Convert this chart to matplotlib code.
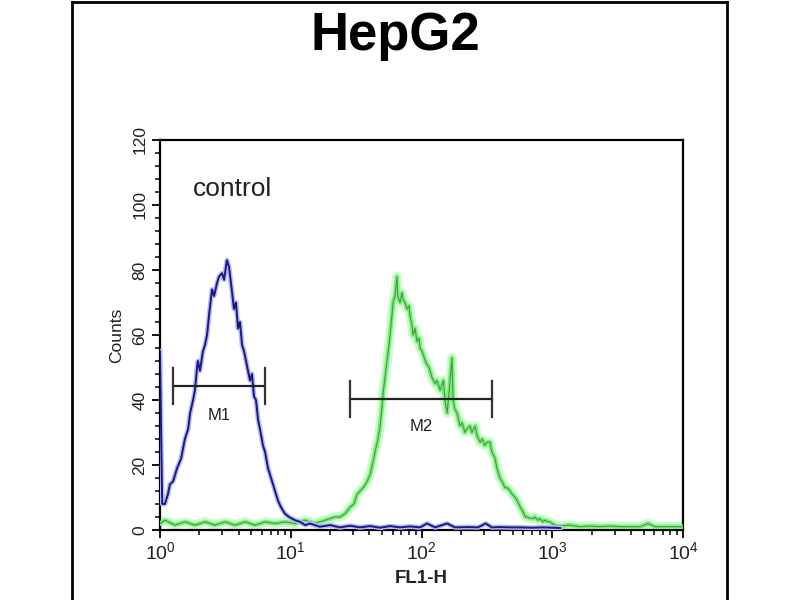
import matplotlib
matplotlib.use("Agg")
import matplotlib.pyplot as plt
from matplotlib.ticker import MultipleLocator, LogLocator, NullFormatter
from matplotlib.lines import Line2D

plt.rcParams['font.family'] = ['Liberation Sans', 'DejaVu Sans']
plt.rcParams['mathtext.fontset'] = 'custom'
plt.rcParams['mathtext.rm'] = 'Liberation Sans'
plt.rcParams['mathtext.it'] = 'Liberation Sans'
plt.rcParams['mathtext.bf'] = 'Liberation Sans:bold'

title = "HepG2"
sample_label = "control"
x_label = "FL1-H"
y_label = "Counts"

# control histogram (blue)
blue_x = [1.0, 1.02, 1.04, 1.09, 1.15, 1.19, 1.26, 1.35, 1.45, 1.55, 1.64, 1.70, 1.79, 1.85,
          1.92, 1.95, 2.02, 2.13, 2.21, 2.29, 2.37, 2.50, 2.59, 2.73, 2.83, 2.98, 3.09, 3.25,
          3.37, 3.49, 3.68, 3.81, 3.95, 4.09, 4.24, 4.39, 4.55, 4.71, 4.88, 5.05, 5.24, 5.42,
          5.62, 5.82, 6.13, 6.36, 6.70, 6.94, 7.32, 7.71, 7.99, 8.42, 9.03, 9.70, 10.8, 11.8,
          12.9, 14.0, 16.7, 20.0, 23.8, 28.4, 33.9, 40.4, 48.2, 57.4, 68.5, 81.7, 97.5, 110,
          127, 157, 180, 230, 270, 310, 345, 400, 480, 560, 700, 850, 1000, 1150]
blue_y = [55, 30, 8, 8, 11, 14, 15, 19, 22, 28, 31, 36, 40, 43,
          50, 52, 49, 55, 57, 60, 66, 74, 72, 76, 78, 79, 77, 83,
          81, 76, 68, 70, 62, 64, 57, 55, 52, 49, 46, 48, 41, 40,
          34, 31, 26, 24, 19, 17, 14, 11, 9, 7, 5, 4, 3, 2.5,
          1.5, 2, 1.0, 1.5, 0.8, 1.3, 0.8, 1.2, 0.7, 1.2, 0.8, 1.1, 0.8, 2.0,
          0.8, 2.0, 0.8, 0.9, 0.8, 2.0, 0.8, 0.9, 0.8, 0.8, 0.7, 0.8, 0.7, 0.6]

# stained sample histogram (green)
green_x = [1.0, 1.09, 1.30, 1.55, 1.85, 2.21, 2.63, 3.14, 3.74, 4.47, 5.33, 6.36, 7.59, 9.03,
           10.8, 12.9, 15.3, 18.3, 21.8, 23.8, 26.0, 28.4, 30.5, 32.1, 33.9, 35.8, 38.4, 40.4,
           42.6, 44.1, 46.5, 48.2, 49.9, 50.8, 52.6, 54.5, 56.4, 57.4, 59.4, 60.5, 62.6, 64.9,
           65.7, 68.5, 70.9, 72.2, 74.8, 77.4, 80.2, 81.7, 84.6, 86.1, 89.2, 92.4, 95.8, 97.5,
           101, 103, 107, 110, 114, 116, 120, 127, 131, 139, 147, 151, 157, 162,
           171, 174, 180, 187, 197, 204, 215, 222, 235, 243, 257, 266, 281, 291,
           305, 316, 334, 345, 365, 377, 398, 412, 435, 451, 477, 493, 521, 539,
           570, 590, 624, 645, 675, 710, 735, 777, 803, 849, 878, 925, 957, 1045,
           1140, 1360, 1620, 1940, 2320, 2770, 3300, 3950, 4700, 5400, 6100, 7250, 8650, 10000]
green_y = [2, 3, 1.5, 2.5, 1.5, 2.5, 1.5, 2.5, 1.5, 2.5, 1.5, 2.5, 2, 2.5,
           2, 3, 2, 3, 4, 4, 5, 7, 8, 11, 12, 13, 15, 17,
           21, 24, 28, 32, 38, 42, 47, 52, 57, 60, 66, 70, 72, 78,
           72, 70, 73, 71, 70, 68, 69, 66, 63, 60, 62, 58, 59, 56,
           55, 54, 52, 51, 50, 49, 47, 45, 46, 43, 46, 40, 36, 42,
           53, 40, 37, 36, 32, 33, 30, 31, 32, 30, 32, 29, 27, 28,
           26, 27, 27, 24, 22, 19, 16, 15, 13, 13, 12, 11, 10, 9,
           7, 6, 4, 4, 3.6, 3.5, 4, 3, 3.5, 2.5, 3, 2.5, 2.5, 1.5,
           1.2, 1.5, 1.0, 1.2, 1.0, 1.2, 1.0, 1.0, 1.0, 2.0, 1.0, 1.0, 1.0, 1.0]

# gates
m1_range = [1.26, 6.35]
m1_level = 44.3
m2_range = [28.4, 346]
m2_level = 40.3
gate_labels = ["M1", "M2"]

fig = plt.figure(figsize=(8, 6), dpi=100)
ax = fig.add_axes([0.2, 0.1167, 0.6538, 0.65])

# green with glow
ax.plot(green_x, green_y, color='#d0fad0', lw=7, solid_joinstyle='round', zorder=2)
ax.plot(green_x, green_y, color='#7af27a', lw=3.2, zorder=3)
ax.plot(green_x, green_y, color='#4f8f4f', lw=0.8, zorder=4)
# blue with halo
ax.plot(blue_x, blue_y, color='#b8b8ff', lw=3.5, zorder=5)
ax.plot(blue_x, blue_y, color='#1a1a78', lw=1.4, zorder=6)

# gate markers
cap = 5.4
for (x0, x1), lvl, lab, dy in [(m1_range, m1_level, gate_labels[0], 9.2),
                               (m2_range, m2_level, gate_labels[1], 8.5)]:
    ax.plot([x0, x1], [lvl, lvl], color='#222222', lw=1.6, zorder=7)
    ax.plot([x0, x0], [lvl - cap, lvl + cap], color='#333333', lw=1.6, zorder=7)
    ax.plot([x1, x1], [lvl - cap, lvl + cap], color='#333333', lw=1.6, zorder=7)
    xm = (x0 * x1) ** 0.5
    ax.text(xm, lvl - dy, lab, ha='center', va='center', fontsize=12, color='#222222', zorder=8)

ax.text(1.79, 105, sample_label, fontsize=19, color='#222222', ha='left', va='center')

ax.set_xscale('log')
ax.set_xlim(1, 10000)
ax.set_ylim(0, 120)
ax.yaxis.set_major_locator(MultipleLocator(20))
ax.yaxis.set_minor_locator(MultipleLocator(4))
ax.xaxis.set_major_locator(LogLocator(base=10, numticks=10))
ax.xaxis.set_minor_locator(LogLocator(base=10, subs=range(2, 10), numticks=20))
ax.xaxis.set_minor_formatter(NullFormatter())
ax.tick_params(axis='both', which='major', direction='out', length=6, width=1.3, color='black')
ax.tick_params(axis='both', which='minor', direction='out', length=3.5, width=1.1, color='black')
ax.tick_params(axis='x', labelsize=14, pad=2, labelcolor='#222222')
ax.tick_params(axis='y', labelsize=12.5, pad=3, labelcolor='#222222')
for lbl in ax.get_yticklabels():
    lbl.set_rotation(90)
    lbl.set_va('center')
for sp in ax.spines.values():
    sp.set_linewidth(1.6)
    sp.set_color('black')

ax.set_xlabel(x_label, fontsize=13.5, fontweight='bold', labelpad=5, color='#222222')
ax.set_ylabel(y_label, fontsize=12.5, labelpad=6, color='#222222')

fig.text(0.494, 0.9167, title, fontsize=38, fontweight='bold', ha='center', va='baseline')

# outer frame
fig.add_artist(Line2D([0.09, 0.09], [0, 0.997], transform=fig.transFigure, color='black', lw=2))
fig.add_artist(Line2D([0.909, 0.909], [0, 0.997], transform=fig.transFigure, color='black', lw=2))
fig.add_artist(Line2D([0.09, 0.909], [0.997, 0.997], transform=fig.transFigure, color='black', lw=2))

fig.savefig("out.png", dpi=100)
